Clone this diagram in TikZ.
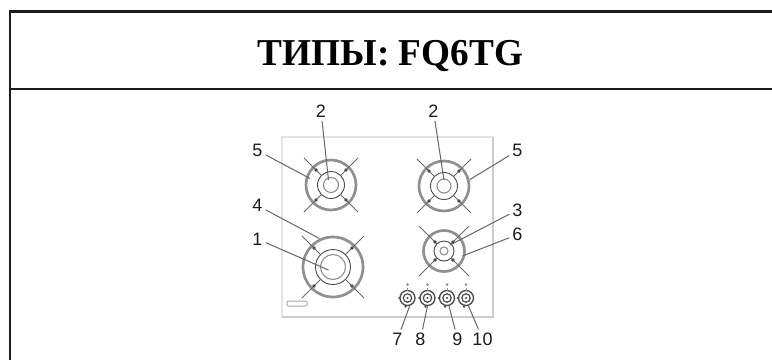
\documentclass[tikz,border=0pt]{standalone}
\usepackage{fontspec}
\setmainfont{Liberation Sans}
\newfontfamily\titlefont{Liberation Serif}
\definecolor{frameC}{HTML}{1C1C1C}
\definecolor{plateC}{HTML}{E4E4E4}
\definecolor{ringC}{HTML}{909090}
\definecolor{darkC}{HTML}{4A4A4A}
\definecolor{spokeC}{HTML}{6A6A6A}
\definecolor{leadC}{HTML}{666666}
\definecolor{digitC}{HTML}{1A1A1A}
\newcommand{\burnerdraw}[7]{%
  % x y R middle inner spokeOuter(per axis) tip(per axis)
  \begin{scope}[shift={(#1,#2)}]
    \draw[ringC,line width=2.7pt] (0,0) circle[radius=#3];
    \draw[darkC,line width=.9pt] (0,0) circle[radius=#4];
    \draw[ringC,line width=1.1pt] (0,0) circle[radius=#5];
    \foreach \sx in {-1,1}\foreach \sy in {-1,1}{
      \draw[spokeC,line width=1pt] ({\sx*#6},{\sy*#6}) -- ({\sx*#4*0.72},{\sy*#4*0.72});
      \fill[darkC] ({\sx*#7},{\sy*#7}) circle[radius=1.8];
    }
  \end{scope}}
\newcommand{\knobdraw}[2]{%
  \begin{scope}[shift={(#1,#2)}]
    \draw[darkC,line width=1.3pt] (0,0) circle[radius=7.5];
    \draw[darkC,line width=1.2pt] (0,0) circle[radius=4.2];
    \fill[darkC] (0,0) circle[radius=1.1];
    \fill[darkC] (-8.3,0) circle[radius=1.1];
    \fill[darkC] (-2,8.6) circle[radius=1.2];
    \fill[ringC] (0,-13.5) circle[radius=1.5];
    \draw[ringC,line width=.8pt] (0,-10.5) -- (0,-7.5);
  \end{scope}}
\tikzset{
  frameline/.style={frameC,line width=2.1pt},
  leader/.style={leadC,line width=1pt},
  numlabel/.style={font=\fontsize{18}{20}\selectfont,text=digitC,inner sep=3pt},
  titlelabel/.style={font=\titlefont\bfseries\fontsize{38}{42}\selectfont,text=black,inner sep=0pt}
}
\begin{document}
\begin{tikzpicture}[x=1pt,y=-1pt]
\useasboundingbox (0,0) rectangle (772,360);
% frame
\draw[frameline] (772,11.5) -- (10,11.5) -- (10,360);
\draw[frameline] (10,89) -- (772,89);
\node[titlelabel,xscale=.98] (title) at (390.5,56) {ТИПЫ: FQ6TG};
% plate
\draw[plateC,line width=1.2pt] (282,317) -- (282,137) -- (493,137);
\draw[plateC!90!black,line width=1.6pt] (493,137) -- (493,317) -- (282,317);
\draw[ringC!80,line width=1pt,rounded corners=1pt] (287,301) rectangle (307,306);
% burners
\burnerdraw{331}{185}{25}{13.5}{7.5}{27}{15}
\burnerdraw{444}{186}{25}{13.5}{7}{27}{15}
\burnerdraw{333}{267}{30}{17.5}{12.5}{31}{19}
\burnerdraw{444}{251}{20.5}{10}{4}{25}{9}
\knobdraw{407.5}{298}
\knobdraw{427.5}{298}
\knobdraw{447}{298}
\knobdraw{466}{298}
% leader ends
\coordinate (t2a) at (328.5,180);
\coordinate (t5a) at (310,178.5);
\coordinate (t4) at (319.5,238.5);
\coordinate (t1) at (328.5,270);
\coordinate (t2b) at (444,180);
\coordinate (t5b) at (470,179.5);
\coordinate (t3) at (450,245);
\coordinate (t6) at (462.5,256);
\coordinate (t7) at (410,305);
\coordinate (t8) at (427.5,306);
\coordinate (t9) at (449,306);
\coordinate (t10) at (468.5,306);
% labels
\node[numlabel] (n2a) at (321,111.5) {2};
\node[numlabel] (n5a) at (257.5,150.5) {5};
\node[numlabel] (n4) at (257.5,205.5) {4};
\node[numlabel] (n1) at (257.5,239) {1};
\node[numlabel] (n2b) at (433.5,111.5) {2};
\node[numlabel] (n5b) at (517.5,150.5) {5};
\node[numlabel] (n3) at (517.5,210) {3};
\node[numlabel] (n6) at (517.5,234.5) {6};
\node[numlabel] (n7) at (397.5,339) {7};
\node[numlabel] (n8) at (420.5,339) {8};
\node[numlabel] (n9) at (457.5,339) {9};
\node[numlabel] (n10) at (482.5,339) {10};
% leaders
\foreach \a/\b in {n2a/t2a,n5a/t5a,n4/t4,n1/t1,n2b/t2b,n5b/t5b,n3/t3,n6/t6,n7/t7,n8/t8,n9/t9,n10/t10}
  \draw[leader] (\a) -- (\b);
\end{tikzpicture}
\end{document}
